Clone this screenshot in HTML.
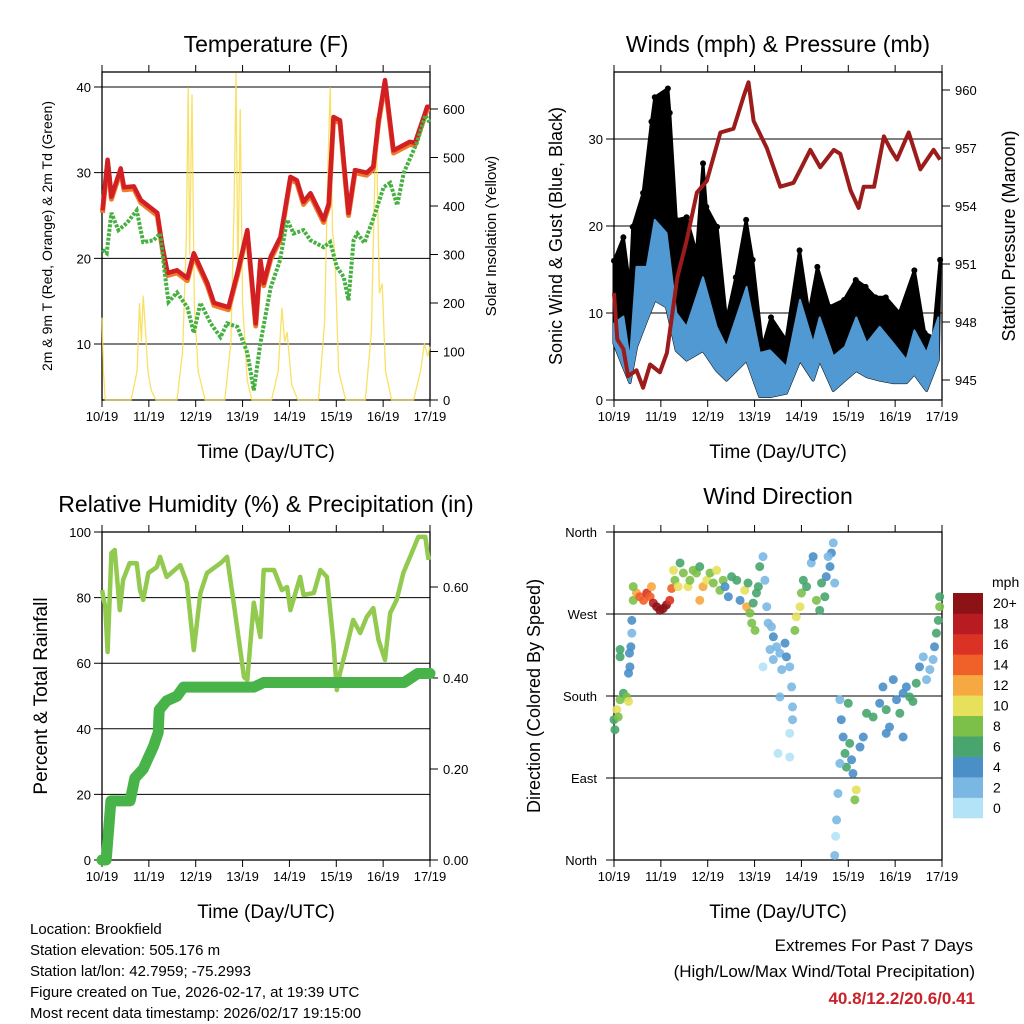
<!DOCTYPE html>
<html><head><meta charset="utf-8"><style>
html,body{margin:0;padding:0;background:#fff;}
svg{display:block;font-family:"Liberation Sans",sans-serif;}
</style></head><body>
<svg id="c" width="1024" height="1024" viewBox="0 0 1024 1024" xmlns="http://www.w3.org/2000/svg">
<rect width="1024" height="1024" fill="#fff"/>
<text x="266" y="52" font-size="23" text-anchor="middle">Temperature (F)</text>
<text x="778" y="52" font-size="23" text-anchor="middle">Winds (mph) &amp; Pressure (mb)</text>
<text x="266" y="512" font-size="23" text-anchor="middle">Relative Humidity (%) &amp; Precipitation (in)</text>
<text x="778" y="504" font-size="23" text-anchor="middle">Wind Direction</text>
<text x="266" y="458" font-size="19" text-anchor="middle">Time (Day/UTC)</text>
<text x="778" y="458" font-size="19" text-anchor="middle">Time (Day/UTC)</text>
<text x="266" y="918" font-size="19" text-anchor="middle">Time (Day/UTC)</text>
<text x="778" y="918" font-size="19" text-anchor="middle">Time (Day/UTC)</text>
<text transform="translate(52,236) rotate(-90)" font-size="14" text-anchor="middle">2m &amp; 9m T (Red, Orange) &amp; 2m Td (Green)</text>
<text transform="translate(496,236) rotate(-90)" font-size="15" text-anchor="middle">Solar Insolation (Yellow)</text>
<text transform="translate(562,236) rotate(-90)" font-size="18" text-anchor="middle">Sonic Wind &amp; Gust (Blue, Black)</text>
<text transform="translate(1015,236) rotate(-90)" font-size="18" text-anchor="middle">Station Pressure (Maroon)</text>
<text transform="translate(47,696) rotate(-90)" font-size="19" text-anchor="middle">Percent &amp; Total Rainfall</text>
<text transform="translate(540,696) rotate(-90)" font-size="18" text-anchor="middle">Direction (Colored By Speed)</text>
<g font-size="15">
<text x="30" y="934">Location: Brookfield</text>
<text x="30" y="955">Station elevation: 505.176 m</text>
<text x="30" y="976">Station lat/lon: 42.7959; -75.2993</text>
<text x="30" y="997">Figure created on Tue, 2026-02-17, at 19:39 UTC</text>
<text x="30" y="1018">Most recent data timestamp: 2026/02/17 19:15:00</text>
</g>
<text x="973" y="951" font-size="17" text-anchor="end">Extremes For Past 7 Days</text>
<text x="975" y="977" font-size="17" text-anchor="end">(High/Low/Max Wind/Total Precipitation)</text>
<text x="975" y="1004" font-size="17" font-weight="bold" fill="#c8232a" text-anchor="end">40.8/12.2/20.6/0.41</text>
</svg>
<script>
const dayLabels=["10/19","11/19","12/19","13/19","14/19","15/19","16/19","17/19"];
// Temperature (F)
const tempT=[0.01,0.12,0.16,0.2,0.4,0.47,0.68,0.83,1.18,1.29,1.4,1.6,1.82,1.96,2.25,2.39,2.7,2.89,3.1,3.28,3.38,3.45,3.6,3.81,4.02,4.16,4.3,4.45,4.73,4.84,4.94,5.08,5.26,5.4,5.65,5.79,5.9,6.04,6.22,6.57,6.68,6.94,7];
const tempV=[25.6,31.5,29.5,27.2,30.5,28.3,28.4,26.8,25.3,21.4,18.3,18.6,17.7,20.6,17.1,14.8,14.3,18.3,23.3,12.4,19.8,17.1,20.2,22.5,29.5,29.1,26.6,27.6,24.5,26.4,36.5,36.1,25.3,30.3,30,30.7,36.1,40.8,32.6,33.6,33.5,37.7,37.7];
const dewT=[0.01,0.1,0.2,0.35,0.53,0.74,0.88,1.1,1.24,1.35,1.42,1.6,1.82,1.96,2.1,2.32,2.53,2.67,2.89,3.1,3.24,3.38,3.6,3.8,3.95,4.09,4.3,4.45,4.73,4.87,5.01,5.16,5.26,5.37,5.45,5.6,5.8,6.01,6.15,6.3,6.44,6.72,6.9,7];
const dewV=[21,20.6,25.3,23.3,24.1,25.6,21.9,22.1,22.9,17.8,14.9,16,14.3,11.3,14.8,12.4,10.8,12.4,12,9,4.6,10.1,16.6,19.8,24.5,22.9,23.3,22.1,21.3,21.9,19,17.8,15.1,22.1,22.9,21.8,24.8,28.3,28.8,26.2,30,33.5,36.7,35.8];
const solT=[0,0.03,0.07,0.62,0.75,0.8,0.84,0.88,0.93,0.98,1.05,1.15,1.6,1.72,1.8,1.84,1.87,1.92,1.97,2.05,2.2,2.62,2.75,2.82,2.86,2.9,2.95,3.0,3.1,3.2,3.62,3.76,3.84,3.9,3.95,4.05,4.18,4.62,4.75,4.82,4.87,4.92,4.97,5.05,5.2,5.62,5.75,5.85,5.92,5.98,6.05,6.18,6.65,6.8,6.88,6.95,7.0];
const solV=[170,60,0,0,60,200,120,215,140,60,20,0,0,100,330,645,300,630,200,60,0,0,120,400,674,250,600,200,40,0,0,60,190,120,140,30,0,0,160,480,645,350,300,60,0,0,140,583,220,240,60,0,0,60,117,90,110];
// Winds
const gustT=[0,0.2,0.34,0.4,0.62,0.8,0.87,1.15,1.19,1.33,1.55,1.76,1.9,1.97,2.2,2.4,2.6,2.82,2.96,3.17,3.35,3.67,3.96,4.16,4.34,4.6,4.91,5.16,5.37,5.58,5.8,6.09,6.41,6.63,6.81,6.96];
const gustV=[16,18.7,13,19.9,23.8,32,34.8,35.8,33,20.7,21,16.9,27.2,22.2,19.9,9.2,14.1,20.7,16.1,6.1,9.5,6.9,17.2,10,15.3,10.7,11.5,13.8,13,11.8,11.8,10,14.9,7.7,7.2,16.1];
const windT=[0,0.2,0.34,0.48,0.7,0.87,1.12,1.33,1.55,1.9,2.19,2.4,2.83,3.11,3.33,3.68,3.97,4.25,4.39,4.68,4.93,5.17,5.39,5.67,5.96,6.24,6.41,6.67,6.92];
const windHi=[8.8,9.6,4.6,15.3,15.3,20.7,19.2,10,8.4,14.1,8.4,6.1,13,5.4,5.7,3.8,11.5,6.5,9.5,5,6.1,9.5,6.5,8.4,6.5,4.6,8,5.4,9.5];
const windLo=[6.5,3.8,2,6.1,9.2,11.5,10.7,5.7,4.6,5.7,3.4,2.3,4.6,0.4,0.4,0.8,4.6,2.3,4.6,1.1,2.3,3.4,2.7,2.3,2,2,3,1.1,4.6];
const presT=[0,0.07,0.2,0.3,0.48,0.62,0.77,0.98,1.13,1.35,1.55,1.77,1.98,2.27,2.55,2.77,2.87,2.98,3.26,3.55,3.83,3.98,4.19,4.4,4.69,4.83,5.05,5.22,5.33,5.55,5.76,5.91,6.04,6.29,6.54,6.82,6.96];
const presV=[949.5,947.1,946.6,945.2,945.5,944.6,945.8,945.4,946.4,950.3,952.2,954.7,955.3,957.8,958,959.7,960.4,958.4,957,955,955.2,955.9,956.9,956,956.9,956.7,954.8,953.9,955,955,957.6,956.9,956.4,957.8,955.9,956.9,956.4];
// RH & precipitation
const rhT=[0,0.07,0.12,0.2,0.27,0.38,0.45,0.59,0.74,0.81,0.88,0.99,1.17,1.24,1.38,1.67,1.81,1.96,2.1,2.24,2.53,2.67,2.81,3.03,3.1,3.24,3.38,3.45,3.67,3.84,3.95,4.02,4.23,4.3,4.52,4.66,4.8,4.94,5.01,5.08,5.22,5.36,5.51,5.65,5.79,5.9,6.04,6.15,6.29,6.43,6.61,6.75,6.9,6.97];
const rhV=[82.3,77,63.4,93.6,94.5,76.2,85.4,90.5,90.5,82.3,79.3,87.5,89.3,92.4,86.3,89.9,84.5,64,81.4,87.5,90.5,92.4,78.4,55.8,54.9,78.4,68,88.4,88.4,82.3,83.2,76.2,86.3,80.8,81.4,88.4,86.3,66.2,51.8,57,64.9,73.2,69.2,74.1,76.8,67.1,61,75.3,79.3,87.5,93.6,98.5,98.5,91.5];
const prT=[0,0.09,0.19,0.6,0.7,0.88,1.1,1.2,1.22,1.38,1.6,1.74,3.24,3.45,6.45,6.74,7];
const prV=[0,0,0.13,0.13,0.18,0.2,0.25,0.28,0.33,0.35,0.36,0.38,0.38,0.39,0.39,0.41,0.41];
// Wind direction
const dirT=[0,0.06,0.13,0.2,0.27,0.02,0.09,0.31,0.31,0.33,0.34,0.36,0.38,0.38,0.13,0.13,
0.41,0.48,0.55,0.63,0.70,0.77,0.80,0.84,0.91,0.98,1.05,1.12,1.19,1.23,0.41,
1.27,1.30,1.37,1.41,1.48,1.58,1.62,1.69,1.76,1.83,1.83,1.90,1.98,2.05,2.12,2.19,2.26,2.33,
2.37,2.44,2.51,2.62,2.69,2.79,2.83,2.86,2.90,2.94,2.97,3.01,3.04,3.11,3.08,
3.18,3.22,3.26,3.29,3.36,3.33,3.40,3.47,3.54,3.58,3.65,3.68,3.75,3.79,3.81,3.81,3.75,3.50,3.75,3.54,3.18,3.40,
3.86,3.89,3.97,4.00,4.04,4.11,4.21,4.25,4.32,4.39,4.43,4.50,4.53,4.61,4.64,4.68,4.71,4.57,
4.82,4.85,4.89,4.93,4.96,4.82,5.00,5.03,5.07,4.78,4.75,4.73,4.71,5.10,5.17,5.14,5.25,5.32,
5.39,5.53,5.67,5.74,5.81,5.88,5.96,6.03,6.10,6.17,6.24,6.31,6.38,6.45,6.52,6.60,6.67,6.74,6.81,6.84,6.88,6.92,6.95,6.95,5.81,6.17];
const dirDeg=[154,165,176,183,179,143,157,174,205,227,212,234,249,263,231,223,
285,293,289,285,293,289,300,282,278,274,276,280,285,298,300,
318,307,300,326,315,300,307,318,315,322,285,300,307,315,304,318,296,307,
300,289,311,307,285,296,278,304,271,260,282,252,293,322,300,
333,307,278,260,256,231,220,234,227,209,238,223,212,190,168,154,139,117,113,179,212,245,
252,267,278,293,307,300,326,333,285,274,304,289,311,322,337,348,304,333,
176,154,135,117,102,106,172,128,110,73,44,26,5,95,77,66,124,135,
161,157,172,190,165,146,198,176,161,183,190,179,174,194,212,223,198,209,220,234,249,263,278,289,139,135];
const dirSpd=[7,10,8,6,9,6,8,10,5,4,4,4,3,4,6,6,
8,12,14,14,16,14,12,18,20,20,20,20,16,14,9,
10,8,10,7,8,10,8,8,8,7,12,12,10,8,8,10,8,8,
4,4,6,6,5,10,12,6,8,8,6,8,6,6,7,
2,2,3,2,3,2,2,2,3,2,4,4,2,2,2,2,1,1,1,2,1,4,
8,10,10,8,6,6,3,4,8,6,6,6,4,4,4,3,3,3,
2,4,4,6,6,2,6,6,4,2,2,1,2,4,10,8,4,4,
6,6,4,4,6,4,4,4,6,4,4,6,6,6,4,2,2,2,2,4,6,6,8,6,4,4];
const speedColors=["#b3e3f7","#7ab8e3","#4a8fc8","#47a56d","#7cc04a","#e6e05a","#f6a940","#ef6128","#dc3226","#b81c22","#8c1216"];
const speedLabels=["0","2","4","6","8","10","12","14","16","18","20+"];
const tempTicks=[10,20,30,40];
const solTicks=[0,100,200,300,400,500,600];
const windTicks=[0,10,20,30];
const presTicks=[945,948,951,954,957,960];
const rhTicks=[0,20,40,60,80,100];
const prTicks=[0,0.2,0.4,0.6];
const dirTicks=[0,90,180,270,360];
const dirNames=["North","East","South","West","North"];

const NS="http://www.w3.org/2000/svg";
const svg=document.getElementById('c');
function mk(tag,attrs,parent){const e=document.createElementNS(NS,tag);for(const k in attrs)e.setAttribute(k,attrs[k]);(parent||svg).appendChild(e);return e;}
function lin(d0,d1,r0,r1){return v=>r0+(v-d0)*(r1-r0)/(d1-d0);}
function path(xs,ys,X,Y){return xs.map((t,i)=>(i?'L':'M')+X(t).toFixed(1)+','+Y(ys[i]).toFixed(1)).join('');}

function frame(p,name){
  const g=mk('g',{});
  
  
  mk('rect',{x:p.x0,y:p.y0,width:p.x1-p.x0,height:p.y1-p.y0,fill:'none',stroke:'#000','stroke-width':1.3},g);
  dayLabels.forEach((l,i)=>{
    const x=p.X(i);
    mk('line',{x1:x,x2:x,y1:p.y1,y2:p.y1+7,stroke:'#000','stroke-width':1},g);
    mk('line',{x1:x,x2:x,y1:p.y0,y2:p.y0-7,stroke:'#000','stroke-width':1},g);
    const t=mk('text',{x:x,y:p.y1+21,'font-size':13,'text-anchor':'middle'},g);t.textContent=l;
    
    
  });
  return g;
}
function leftTicks(p,g,ticks,Y,fmt,grid){
  ticks.forEach(v=>{const y=Y(v);
    if(grid) mk('line',{x1:p.x0-8,x2:p.x1,y1:y,y2:y,stroke:'#000','stroke-width':1},g);
    else mk('line',{x1:p.x0-8,x2:p.x0,y1:y,y2:y,stroke:'#000','stroke-width':1},g);
    const t=mk('text',{x:p.x0-11,y:y+5,'font-size':13,'text-anchor':'end'},g);t.textContent=fmt(v);
    
    
  });
}
function rightTicks(p,g,ticks,Y,fmt){
  ticks.forEach(v=>{const y=Y(v);
    mk('line',{x1:p.x1,x2:p.x1+8,y1:y,y2:y,stroke:'#000','stroke-width':1},g);
    const t=mk('text',{x:p.x1+13,y:y+5,'font-size':13},g);t.textContent=fmt(v);
    
    
  });
}

// Panel 1: temperature
(function(){
  const p={x0:102,x1:430,y0:72,y1:400};p.X=lin(0,7,p.x0,p.x1);
  const Y=lin(40,10,87,344), S=lin(0,600,400,109);
  const g=frame(p,'temperature');
  leftTicks(p,g,tempTicks,Y,v=>v,true);
  rightTicks(p,g,solTicks,S,v=>v);
  const sol=mk('path',{d:path(solT,solV,p.X,S),fill:'none',stroke:'#f7dc4a','stroke-width':1.3,'stroke-opacity':0.85});
  
  
  const o=mk('path',{d:path(tempT,tempV.map(v=>v-0.3),p.X,Y),fill:'none',stroke:'#f07a2a','stroke-width':5,'stroke-linejoin':'round'});
  
  
  const r=mk('path',{d:path(tempT,tempV,p.X,Y),fill:'none',stroke:'#d11f24','stroke-width':4.5,'stroke-linejoin':'round'});
  
  
  const d=mk('path',{d:path(dewT,dewV,p.X,Y),fill:'none',stroke:'#46b041','stroke-width':4,'stroke-dasharray':'3 1.5'});
  
  
})();

// Panel 2: winds & pressure
(function(){
  const p={x0:614,x1:942,y0:72,y1:400};p.X=lin(0,7,p.x0,p.x1);
  const Y=lin(0,30,400,139), P=lin(945,960,380,90);
  const g=frame(p,'winds');
  leftTicks(p,g,windTicks,Y,v=>v,true);
  rightTicks(p,g,presTicks,P,v=>v);
  let d=path(gustT,gustV,p.X,Y);
  for(let i=windT.length-1;i>=0;i--) d+='L'+p.X(windT[i]).toFixed(1)+','+Y(windLo[i]).toFixed(1);
  const gb=mk('path',{d:d+'Z',fill:'#000',stroke:'#000','stroke-width':3,'stroke-linejoin':'round'});
  
  
  gustT.forEach((t,i)=>{const c=mk('circle',{cx:p.X(t),cy:Y(gustV[i]),r:3,fill:'#000'});
    
    });
  let b=path(windT,windHi,p.X,Y);
  for(let i=windT.length-1;i>=0;i--) b+='L'+p.X(windT[i]).toFixed(1)+','+Y(windLo[i]).toFixed(1);
  const bb=mk('path',{d:b+'Z',fill:'#5099d2',stroke:'#5099d2','stroke-width':2,'stroke-linejoin':'round'});
  
  
  const pr=mk('path',{d:path(presT,presV,p.X,P),fill:'none',stroke:'#9c1b1b','stroke-width':4,'stroke-linejoin':'round'});
  
  
})();

// Panel 3: RH & precip
(function(){
  const p={x0:102,x1:430,y0:532,y1:860};p.X=lin(0,7,p.x0,p.x1);
  const Y=lin(0,100,860,532), R=lin(0,0.2,860,769);
  const g=frame(p,'humidity');
  leftTicks(p,g,rhTicks,Y,v=>v,true);
  rightTicks(p,g,prTicks,R,v=>v.toFixed(2));
  const rh=mk('path',{d:path(rhT,rhV,p.X,Y),fill:'none',stroke:'#92c94f','stroke-width':4.5,'stroke-linejoin':'round'});
  
  
  const pc=mk('path',{d:path(prT,prV,p.X,R),fill:'none',stroke:'#48b348','stroke-width':11,'stroke-linejoin':'round','stroke-linecap':'round'});
  
  
})();

// Panel 4: wind direction
(function(){
  const p={x0:614,x1:942,y0:532,y1:860};p.X=lin(0,7,p.x0,p.x1);
  const Y=lin(0,360,860,532);
  const g=frame(p,'wind-direction');
  dirTicks.forEach((v,i)=>{const y=Y(v);
    mk('line',{x1:p.x0-8,x2:p.x1,y1:y,y2:y,stroke:'#000','stroke-width':1},g);
    const t=mk('text',{x:p.x0-17,y:y+5,'font-size':13,'text-anchor':'end'},g);t.textContent=dirNames[i];
    
    
  });
  dirT.forEach((t,i)=>{
    const ci=Math.min(10,Math.floor(dirSpd[i]/2));
    const c=mk('circle',{cx:p.X(t),cy:Y(dirDeg[i]),r:4.5,fill:speedColors[ci],'fill-opacity':0.9});
    
    
  });
  const lg=mk('g',{});
  
  
  const bh=225/11;
  speedColors.forEach((col,i)=>{
    const y=593+(10-i)*bh;
    mk('rect',{x:953,y:y,width:30,height:bh+0.3,fill:col},lg);
    const t=mk('text',{x:993,y:y+bh/2+5,'font-size':14},lg);t.textContent=speedLabels[i];
  });
  const u=mk('text',{x:992,y:587,'font-size':14},lg);u.textContent='mph';
})();
</script>
</body></html>
